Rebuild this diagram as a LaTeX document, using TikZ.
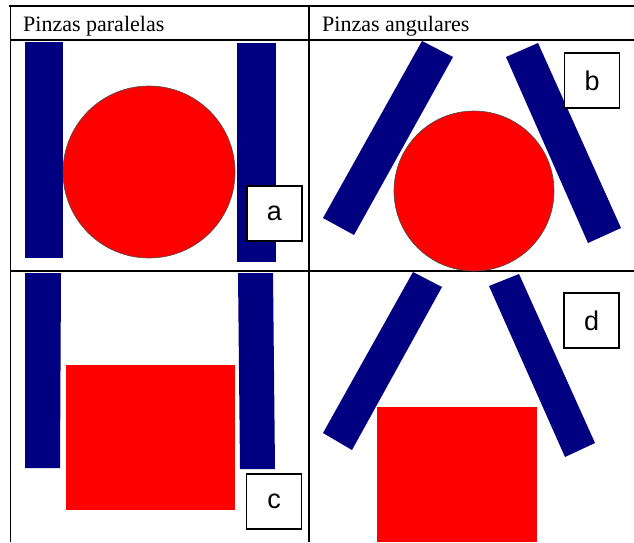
\documentclass[tikz,border=0pt]{standalone}
\usepackage{fontspec}
\setmainfont{Liberation Serif}
\newfontfamily\lblfont{Liberation Sans}
\definecolor{pinzblue}{RGB}{0,0,128}
\begin{document}
\begin{tikzpicture}[
  x=1pt, y=-1pt,
  pinzgrid/.style = {line width=1.6pt, black},
  pinzjaw/.style = {fill=pinzblue},
  pinzobj/.style = {fill=red},
  pinzball/.style = {fill=red, draw=black!70, line width=0.6pt},
  pinzlbl/.style = {draw, line width=1.3pt, fill=white, minimum size=55pt,
    inner sep=0pt, font=\lblfont\fontsize{27}{27}\selectfont},
  pinzhead/.style = {anchor=base west, inner sep=0pt, font=\fontsize{22}{22}\selectfont}
]
  \useasboundingbox (0,0) rectangle (634,542);
  % tabla
  \draw[pinzgrid] (9,6) -- (634,6);
  \draw[pinzgrid] (10,40) -- (634,40);
  \draw[pinzgrid] (10,271) -- (634,271);
  \draw[pinzgrid] (10.5,6) -- (10.5,542);
  \draw[pinzgrid] (309,6) -- (309,542);
  \node[pinzhead] (headpar) at (23,31) {Pinzas paralelas};
  \node[pinzhead] (headang) at (322,31) {Pinzas angulares};
  % a: paralelas, pieza redonda
  \fill[pinzjaw] (25,42) -- (63,42) -- (63,258) -- (25,258) -- cycle;
  \fill[pinzjaw] (237,43) -- (276,43) -- (276,262) -- (237,262) -- cycle;
  \draw[pinzball] (149,172) circle (86);
  \node[pinzlbl] (lbla) at (274.5,213.5) {a};
  % b: angulares, pieza redonda
  \fill[pinzjaw] (422,41) -- (453,57) -- (354,235) -- (323,218) -- cycle;
  \fill[pinzjaw] (506,57) -- (538,43) -- (621,228) -- (588,243) -- cycle;
  \draw[pinzball] (474,191) circle (80);
  \node[pinzlbl] (lblb) at (592,80.5) {b};
  % c: paralelas, pieza cuadrada
  \fill[pinzjaw] (25,273) -- (61,273) -- (60,468) -- (25,468) -- cycle;
  \fill[pinzjaw] (238,273) -- (273,273) -- (275,469) -- (240,469) -- cycle;
  \fill[pinzobj] (66,365) rectangle (235,510);
  \node[pinzlbl] (lblc) at (274,501.5) {c};
  % d: angulares, pieza cuadrada
  \fill[pinzjaw] (413,272) -- (442,287) -- (352,450) -- (323,433) -- cycle;
  \fill[pinzjaw] (489,286) -- (519,274) -- (595,443) -- (565,457) -- cycle;
  \fill[pinzobj] (377,407) rectangle (537,542);
  \node[pinzlbl] (lbld) at (591.5,320.5) {d};
\end{tikzpicture}
\end{document}
